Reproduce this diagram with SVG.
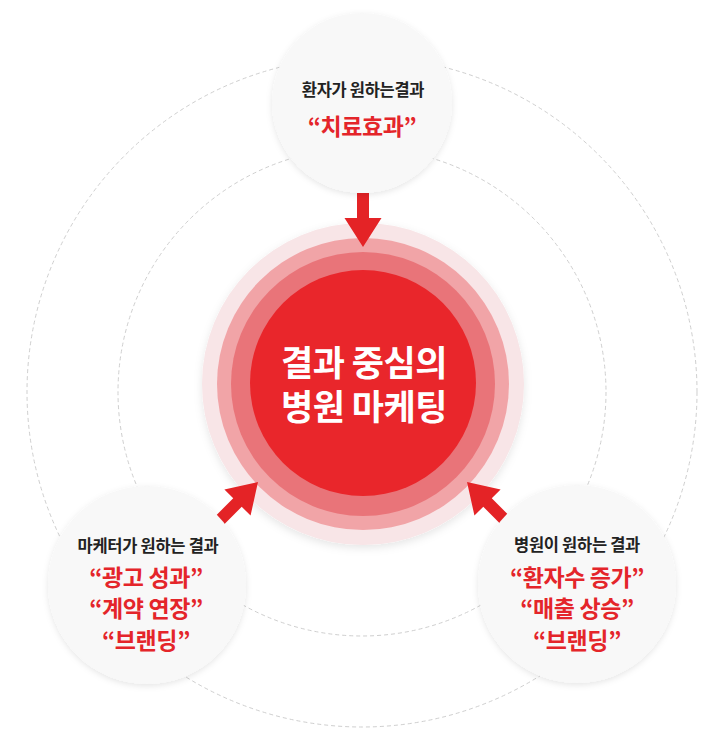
<svg xmlns="http://www.w3.org/2000/svg" width="717" height="748" viewBox="0 0 717 748">
  <defs>
    <filter id="nodeShadow" x="-20%" y="-20%" width="140%" height="140%">
      <feDropShadow dx="0" dy="2" stdDeviation="3" flood-color="#000" flood-opacity="0.10"/>
    </filter>
    <filter id="ringShadow" x="-20%" y="-20%" width="140%" height="140%">
      <feDropShadow dx="0" dy="3" stdDeviation="4" flood-color="#000" flood-opacity="0.10"/>
    </filter>
    <path id="arrow" d="M0,-6 H25 V-18.5 L54,0 L25,18.5 V6 H0 Z"/>
    <style>
      .dash { fill: none; stroke: #cfcfcf; stroke-width: 1; stroke-dasharray: 4 3; }
      .node { fill: #f8f8f8; filter: url(#nodeShadow); }
      .t { font-family: "Noto Sans CJK KR", "Noto Sans", sans-serif; font-weight: 700; text-anchor: middle; }
      .sub { font-size: 16.5px; fill: #222222; letter-spacing: -0.3px; }
      .red { font-size: 23px; fill: #e4252a; letter-spacing: -0.4px; }
      .ctr { font-size: 35px; fill: #ffffff; letter-spacing: -0.5px; }
      .arr { fill: #e42326; }
    </style>
  </defs>
  <rect width="717" height="748" fill="#ffffff"/>

  <g id="orbits">
    <circle class="dash" cx="362" cy="392" r="335"/>
    <circle class="dash" cx="362" cy="392" r="244"/>
  </g>

  <g id="center">
    <circle cx="363" cy="384" r="161" fill="#f8e5e7" filter="url(#ringShadow)"/>
    <circle cx="363" cy="384" r="146" fill="#f1a4a7"/>
    <circle cx="363" cy="384" r="132" fill="#e97479"/>
    <circle cx="363" cy="383" r="113" fill="#e9262b"/>
    <text class="t ctr" x="364" y="376"><tspan x="364" y="376">결과 중심의</tspan><tspan x="364" y="420">병원 마케팅</tspan></text>
  </g>

  <g id="connectors">
    <use href="#arrow" class="arr" transform="translate(363,193) rotate(90)"/>
    <use href="#arrow" class="arr" transform="translate(219.8,520.2) rotate(-45)"/>
    <use href="#arrow" class="arr" transform="translate(505.2,520.2) rotate(-135)"/>
  </g>

  <g id="node-patient">
    <circle class="node" cx="362" cy="103" r="90"/>
    <text class="t sub" x="363" y="96">환자가 원하는결과</text>
    <text class="t red" x="362" y="135">“치료효과”</text>
  </g>

  <g id="node-marketer">
    <circle class="node" cx="147" cy="585" r="99"/>
    <text class="t sub" x="148" y="552">마케터가 원하는 결과</text>
    <text class="t red" x="146" y="586">“광고 성과”</text>
    <text class="t red" x="146" y="617">“계약 연장”</text>
    <text class="t red" x="146" y="649">“브랜딩”</text>
  </g>

  <g id="node-hospital">
    <circle class="node" cx="577" cy="584" r="99"/>
    <text class="t sub" x="577" y="551">병원이 원하는 결과</text>
    <text class="t red" x="577" y="586">“환자수 증가”</text>
    <text class="t red" x="577" y="617">“매출 상승”</text>
    <text class="t red" x="577" y="649">“브랜딩”</text>
  </g>
</svg>
